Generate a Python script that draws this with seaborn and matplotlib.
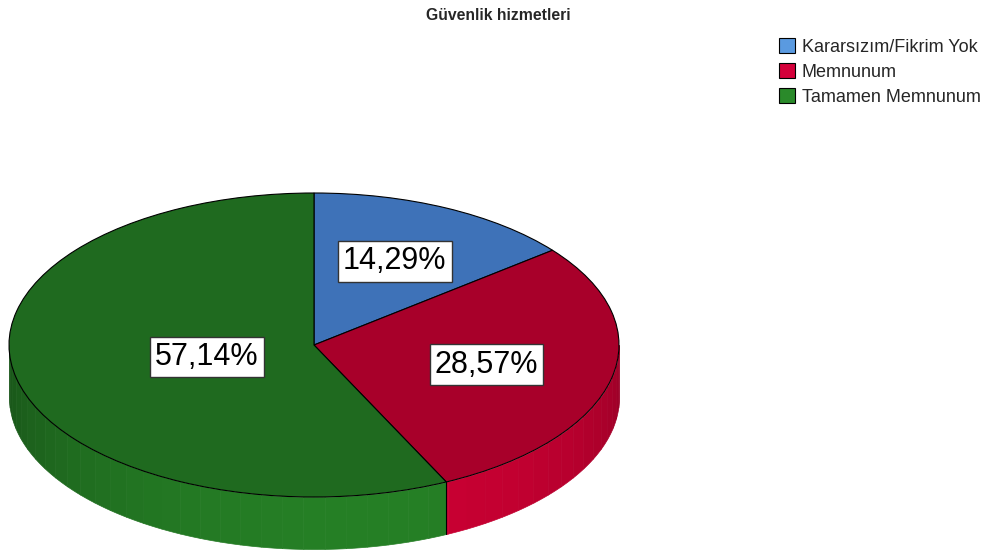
import numpy as np
import matplotlib.pyplot as plt
import matplotlib.colors as mcolors
from matplotlib.patches import Patch
import seaborn as sns

categories = ['Kararsızım/Fikrim Yok', 'Memnunum', 'Tamamen Memnunum']
values = [14.29, 28.57, 57.14]
labels = ['14,29%', '28,57%', '57,14%']

top_colors = ['#3E72B8', '#A8002A', '#1F6A1F']
legend_colors = ['#5A9AE0', '#D4003A', '#2A8A2A']
label_dist = [0.61, 0.58, 0.36]

sns.set_theme(style='white')
plt.rcParams['font.family'] = ['Liberation Sans', 'DejaVu Sans']

W, H = 1005, 559
fig = plt.figure(figsize=(W / 100, H / 100), dpi=100)
ax = fig.add_axes([0, 0, 1, 1])

# ellipse geometry in pixels (data unit = one radius)
cx, cy, rx, ry, depth = 314, 345, 305, 152, 52
d = depth / ry

wedges, _ = ax.pie(values, colors=top_colors, startangle=90, counterclock=False,
                   radius=1, center=(0, 0),
                   wedgeprops=dict(edgecolor='black', linewidth=0.8, zorder=3))

# side wall of the 3d pie, front half only
total = sum(values)
cum = np.cumsum([0] + values) / total
bounds = [90 - c * 360 for c in cum]
pts = list(np.linspace(180, 360, 46))
for b in bounds:
    bb = b % 360
    if 180 < bb < 360:
        pts.append(bb)
pts = sorted(set(pts))
for a0, a1 in zip(pts[:-1], pts[1:]):
    mid = (a0 + a1) / 2
    frac = ((90 - mid) % 360) / 360
    idx = int(np.searchsorted(cum, frac, side='right') - 1)
    idx = min(idx, len(values) - 1)
    shade = 0.85 + 0.35 * (-np.sin(np.radians(mid - 10)))
    rgb = np.clip(np.array(mcolors.to_rgb(top_colors[idx])) * shade, 0, 1)
    th = np.radians(np.linspace(a0, a1, 6))
    x = np.cos(th)
    ytop = np.sin(th)
    ax.fill_between(x, ytop, ytop - d, color=rgb, lw=0.5, edgecolor=rgb, zorder=1)

for b in bounds:
    bb = b % 360
    if 180 < bb < 360:
        xb, yb = np.cos(np.radians(bb)), np.sin(np.radians(bb))
        ax.plot([xb, xb], [yb, yb - d], color='black', lw=0.8, zorder=2)

# percentage labels
for i, lab in enumerate(labels):
    mid = 90 - (cum[i] + values[i] / total / 2) * 360
    r = label_dist[i]
    ax.text(r * np.cos(np.radians(mid)), r * np.sin(np.radians(mid)), lab,
            ha='center', va='center', fontsize=22, color='black', zorder=5,
            bbox=dict(boxstyle='square,pad=0.17', fc='white', ec='#333333', lw=1))

ax.set_aspect('auto')
ax.set_xlim(-cx / rx, (W - cx) / rx)
ax.set_ylim((cy - H) / ry, cy / ry)
ax.axis('off')

handles = [Patch(facecolor=c, edgecolor='black', linewidth=0.8) for c in legend_colors]
fig.legend(handles, categories, loc='upper left', bbox_to_anchor=(772 / W, 1 - 31 / H),
           frameon=False, fontsize=13, handlelength=0.9, handleheight=0.9,
           handletextpad=0.35, labelspacing=0.4, borderaxespad=0)

fig.text(498 / W, 1 - 15 / H, 'Güvenlik hizmetleri', ha='center', va='center',
         fontweight='bold', fontsize=11.3)

fig.savefig('out.png', dpi=100)
